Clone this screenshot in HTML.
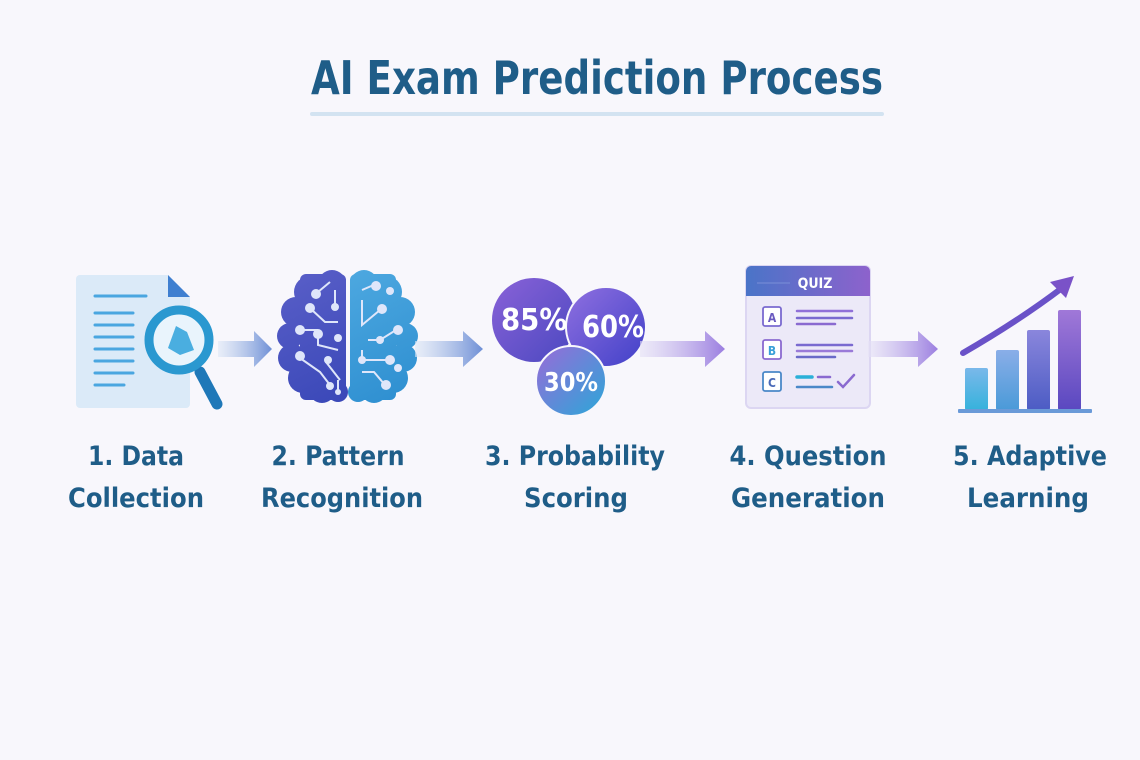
<!DOCTYPE html>
<html><head><meta charset="utf-8"><style>
html,body{margin:0;padding:0;background:#f8f7fc;}
svg{display:block}
text{font-family:"DejaVu Sans Condensed","Liberation Sans",sans-serif;font-weight:bold;}
</style></head><body>
<svg width="1140" height="760" viewBox="0 0 1140 760" xmlns="http://www.w3.org/2000/svg">
<defs>
<linearGradient id="arr1" x1="0" x2="1"><stop offset="0" stop-color="#dfe8f6" stop-opacity="0.6"/><stop offset="1" stop-color="#6e8fd6"/></linearGradient>
<linearGradient id="arr2" x1="0" x2="1"><stop offset="0" stop-color="#e6e2f6" stop-opacity="0.6"/><stop offset="1" stop-color="#9b7ee0"/></linearGradient>
<linearGradient id="bl" gradientUnits="userSpaceOnUse" x1="280" y1="270" x2="346" y2="402"><stop offset="0" stop-color="#5a5fc8"/><stop offset="1" stop-color="#3a48b8"/></linearGradient>
<linearGradient id="br" gradientUnits="userSpaceOnUse" x1="350" y1="270" x2="415" y2="402"><stop offset="0" stop-color="#4da8e0"/><stop offset="1" stop-color="#2d8ed0"/></linearGradient>
<linearGradient id="c85" x1="0" y1="0" x2="1" y2="1"><stop offset="0" stop-color="#8a62d8"/><stop offset="1" stop-color="#4a48c0"/></linearGradient>
<linearGradient id="c60" x1="0" y1="0" x2="1" y2="1"><stop offset="0" stop-color="#9070e0"/><stop offset="1" stop-color="#4040c8"/></linearGradient>
<linearGradient id="c30" x1="0" y1="0" x2="1" y2="1"><stop offset="0" stop-color="#9a6ad8"/><stop offset="1" stop-color="#2aa8d8"/></linearGradient>
<linearGradient id="qh" x1="0" x2="1"><stop offset="0" stop-color="#4a74c8"/><stop offset="1" stop-color="#8d62cc"/></linearGradient>
<linearGradient id="b1" x1="0" y1="0" x2="0" y2="1"><stop offset="0" stop-color="#7ab8ea"/><stop offset="1" stop-color="#36b2dc"/></linearGradient>
<linearGradient id="b2" x1="0" y1="0" x2="0" y2="1"><stop offset="0" stop-color="#8aaee8"/><stop offset="1" stop-color="#4a9ad8"/></linearGradient>
<linearGradient id="b3" x1="0" y1="0" x2="0" y2="1"><stop offset="0" stop-color="#8a86dc"/><stop offset="1" stop-color="#4c5cc4"/></linearGradient>
<linearGradient id="b4" x1="0" y1="0" x2="0" y2="1"><stop offset="0" stop-color="#a078d8"/><stop offset="1" stop-color="#5a48c0"/></linearGradient>
</defs>
<rect width="1140" height="760" fill="#f8f7fc"/>
<!-- title -->
<text x="597" y="94" font-size="46" fill="#1f5d88" text-anchor="middle" textLength="572" lengthAdjust="spacingAndGlyphs">AI Exam Prediction Process</text>
<rect x="310" y="112" width="574" height="4" rx="2" fill="#d3e3f1"/>

<!-- doc -->
<path d="M80,275 H168 L190,297 V404 a4,4 0 0 1 -4,4 H80 a4,4 0 0 1 -4,-4 V279 a4,4 0 0 1 4,-4Z" fill="#dbeaf8"/>
<path d="M168,275 L190,297 H168Z" fill="#3f7fd0"/>
<g stroke="#4aa6e0" stroke-width="3" stroke-linecap="round">
<line x1="95" y1="296" x2="146" y2="296"/><line x1="95" y1="313" x2="133" y2="313"/><line x1="95" y1="325" x2="133" y2="325"/><line x1="95" y1="337" x2="133" y2="337"/><line x1="95" y1="349" x2="133" y2="349"/><line x1="95" y1="361" x2="133" y2="361"/><line x1="95" y1="373" x2="133" y2="373"/><line x1="95" y1="385" x2="124" y2="385"/>
</g>
<line x1="200" y1="372" x2="217" y2="404" stroke="#1f78b8" stroke-width="11" stroke-linecap="round"/>
<circle cx="179" cy="340" r="30" fill="#e9f4fc" stroke="#2a98d0" stroke-width="9"/>
<path d="M176,326 L187,332 L194,350 L180,355 L168,348 Z" fill="#4aaee0"/>

<!-- arrow1 -->
<path d="M218,341 H254 V331 L272,349 L254,367 V357 H218Z" fill="url(#arr1)"/>

<!-- brain -->
<g fill="url(#bl)">
<circle cx="332" cy="284" r="14"/><circle cx="310" cy="292" r="16"/><circle cx="296" cy="312" r="15"/><circle cx="290" cy="336" r="13"/><circle cx="292" cy="358" r="14"/><circle cx="303" cy="378" r="15"/><circle cx="322" cy="390" r="13"/><circle cx="338" cy="392" r="10"/>
<rect x="300" y="274" width="46" height="126" rx="6"/>
</g>
<g fill="url(#br)">
<circle cx="364" cy="284" r="14"/><circle cx="386" cy="292" r="16"/><circle cx="400" cy="312" r="15"/><circle cx="405" cy="336" r="13"/><circle cx="403" cy="358" r="14"/><circle cx="393" cy="378" r="15"/><circle cx="374" cy="390" r="13"/><circle cx="358" cy="392" r="10"/>
<rect x="350" y="274" width="46" height="126" rx="6"/>
</g>
<g stroke="#dfe6fa" stroke-width="2" fill="none">
<path d="M318,292 L330,282"/><path d="M335,290 V305"/><path d="M312,310 L325,322 H338"/><path d="M302,330 H318"/><path d="M318,335 V345 L338,350"/><path d="M300,358 L320,372 L330,385"/><path d="M326,362 L340,380"/><path d="M338,380 V390"/>
<path d="M362,290 L376,284"/><path d="M362,300 V325 L380,310"/><path d="M368,340 H380 L396,330"/><path d="M362,350 V360 H390"/><path d="M362,372 H374 L385,385"/>
</g>
<g fill="#dfe6fa">
<circle cx="316" cy="294" r="5"/><circle cx="335" cy="307" r="4"/><circle cx="310" cy="308" r="5"/><circle cx="300" cy="330" r="5"/><circle cx="318" cy="334" r="5"/><circle cx="338" cy="338" r="4"/><circle cx="300" cy="356" r="5"/><circle cx="330" cy="386" r="4"/><circle cx="338" cy="392" r="3"/><circle cx="328" cy="360" r="4"/>
<circle cx="376" cy="286" r="5"/><circle cx="390" cy="291" r="4"/><circle cx="382" cy="309" r="5"/><circle cx="398" cy="330" r="5"/><circle cx="380" cy="340" r="4"/><circle cx="390" cy="360" r="5"/><circle cx="362" cy="360" r="4"/><circle cx="386" cy="385" r="5"/><circle cx="398" cy="368" r="4"/>
</g>

<!-- arrow2 -->
<path d="M415,341 H463 V331 L483,349 L463,367 V357 H415Z" fill="url(#arr1)"/>

<!-- circles -->
<circle cx="534" cy="320" r="42" fill="url(#c85)"/>
<circle cx="606" cy="327" r="40" fill="url(#c60)" stroke="#f8f7fc" stroke-width="2"/>
<circle cx="571" cy="381" r="35" fill="url(#c30)" stroke="#f8f7fc" stroke-width="2"/>
<text x="534" y="330" font-size="30" fill="#fff" text-anchor="middle" textLength="66" lengthAdjust="spacingAndGlyphs">85%</text>
<text x="613" y="337" font-size="30" fill="#fff" text-anchor="middle" textLength="62" lengthAdjust="spacingAndGlyphs">60%</text>
<text x="571" y="391" font-size="26" fill="#fff" text-anchor="middle" textLength="54" lengthAdjust="spacingAndGlyphs">30%</text>

<!-- arrow3 -->
<path d="M640,341 H705 V331 L725,349 L705,367 V357 H640Z" fill="url(#arr2)"/>

<!-- quiz -->
<rect x="746" y="266" width="124" height="142" rx="5" fill="#ece9f8" stroke="#dcd6f2" stroke-width="2"/>
<path d="M751,266 H865 a5,5 0 0 1 5,5 V296 H746 V271 a5,5 0 0 1 5,-5Z" fill="url(#qh)"/>
<text x="815" y="288" font-size="14" fill="#fff" text-anchor="middle">QUIZ</text>
<line x1="757" y1="283" x2="790" y2="283" stroke="#7a8fd8" stroke-width="1"/>
<g fill="#fff" stroke-width="1.8">
<rect x="763" y="307" width="18" height="19" rx="2" stroke="#7a6ad0"/>
<rect x="763" y="340" width="18" height="19" rx="2" stroke="#8a6ad0"/>
<rect x="763" y="372" width="18" height="19" rx="2" stroke="#4a88c8"/>
</g>
<text x="772" y="322" font-size="12" fill="#6a5ac0" text-anchor="middle" font-weight="normal">A</text>
<text x="772" y="355" font-size="12" fill="#3aa0d8" text-anchor="middle" font-weight="normal">B</text>
<text x="772" y="387" font-size="12" fill="#4a6ab8" text-anchor="middle" font-weight="normal">C</text>
<g stroke-width="2.5" stroke-linecap="round">
<line x1="797" y1="311" x2="852" y2="311" stroke="#9070d8"/><line x1="797" y1="318" x2="852" y2="318" stroke="#7a6ad0"/><line x1="797" y1="324" x2="835" y2="324" stroke="#8a6ad0"/>
<line x1="797" y1="345" x2="852" y2="345" stroke="#7a6ad0"/><line x1="797" y1="351" x2="852" y2="351" stroke="#9a7ad8"/><line x1="797" y1="357" x2="835" y2="357" stroke="#6a6ac8"/>
<line x1="797" y1="377" x2="812" y2="377" stroke="#2ab0d8" stroke-width="3.5"/><line x1="818" y1="377" x2="830" y2="377" stroke="#8a6ad0"/><line x1="797" y1="387" x2="832" y2="387" stroke="#4a88c8"/>
<path d="M838,382 L843,387 L854,375" stroke="#8a6ad0" fill="none"/>
</g>

<!-- arrow4 -->
<path d="M868,341 H918 V331 L938,349 L918,367 V357 H868Z" fill="url(#arr2)"/>

<!-- chart -->
<rect x="965" y="368" width="23" height="42" rx="2" fill="url(#b1)"/>
<rect x="996" y="350" width="23" height="60" rx="2" fill="url(#b2)"/>
<rect x="1027" y="330" width="23" height="80" rx="2" fill="url(#b3)"/>
<rect x="1058" y="310" width="23" height="100" rx="2" fill="url(#b4)"/>
<rect x="958" y="409" width="134" height="4" rx="1" fill="#6a9ad8"/>
<path d="M963,353 Q1020,320 1062,288" stroke="#6a52c8" stroke-width="6" fill="none" stroke-linecap="round"/>
<path d="M1074,276 L1050,282 L1066,298Z" fill="#7a52c8"/>

<!-- labels -->
<g font-size="27" fill="#1f5d88" text-anchor="middle">
<text x="136" y="465" textLength="96" lengthAdjust="spacingAndGlyphs">1. Data</text>
<text x="136" y="507" textLength="136" lengthAdjust="spacingAndGlyphs">Collection</text>
<text x="338" y="465" textLength="133" lengthAdjust="spacingAndGlyphs">2. Pattern</text>
<text x="342" y="507" textLength="162" lengthAdjust="spacingAndGlyphs">Recognition</text>
<text x="575" y="465" textLength="180" lengthAdjust="spacingAndGlyphs">3. Probability</text>
<text x="576" y="507" textLength="104" lengthAdjust="spacingAndGlyphs">Scoring</text>
<text x="808" y="465" textLength="157" lengthAdjust="spacingAndGlyphs">4. Question</text>
<text x="808" y="507" textLength="154" lengthAdjust="spacingAndGlyphs">Generation</text>
<text x="1030" y="465" textLength="154" lengthAdjust="spacingAndGlyphs">5. Adaptive</text>
<text x="1028" y="507" textLength="122" lengthAdjust="spacingAndGlyphs">Learning</text>
</g>
</svg>
</body></html>
